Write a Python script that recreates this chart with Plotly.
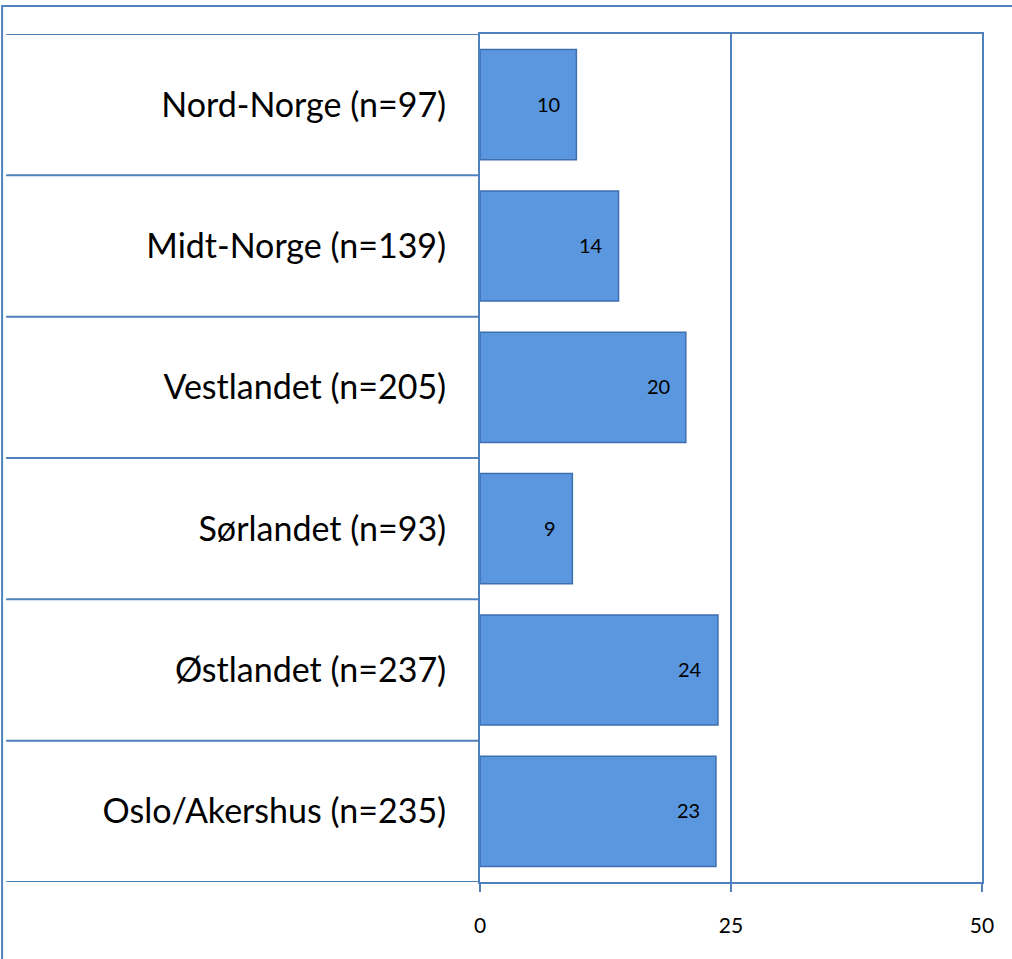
import plotly.graph_objects as go

# Data (bottom to top, as drawn)
regions = [
    "Oslo/Akershus (n=235)",
    "Østlandet (n=237)",
    "Sørlandet (n=93)",
    "Vestlandet (n=205)",
    "Midt-Norge (n=139)",
    "Nord-Norge (n=97)",
]
values = [23.5, 23.7, 9.2, 20.5, 13.8, 9.6]
value_labels = ["23", "24", "9", "20", "14", "10"]
x_ticks = [0, 25, 50]

LINE_COLOR = "#4F81BD"
BAR_COLOR = "#5B97DE"
BAR_EDGE = "#3E6FAF"
FONT_FAMILY = "Lato"

fig = go.Figure(
    go.Bar(
        x=values,
        y=regions,
        orientation="h",
        width=0.78,
        marker=dict(color=BAR_COLOR, line=dict(color=BAR_EDGE, width=1.5)),
        hoverinfo="x+y",
    )
)

# value labels near the right end of each bar
for reg, val, lab in zip(regions, values, value_labels):
    fig.add_annotation(
        x=val,
        y=reg,
        text=lab,
        showarrow=False,
        xanchor="right",
        xshift=-14,
        yshift=1,
        font=dict(size=20, color="black", family=FONT_FAMILY),
    )

# category separators extending into the label area
for i in range(len(regions) + 1):
    fig.add_shape(
        type="line",
        xref="paper",
        yref="y",
        x0=-0.944,
        x1=0,
        y0=i - 0.5,
        y1=i - 0.5,
        line=dict(color=LINE_COLOR, width=2),
    )

# outer frame
fig.add_shape(
    type="rect",
    xref="paper",
    yref="paper",
    x0=-0.952,
    x1=1.2,
    y0=-0.3,
    y1=1.033,
    line=dict(color=LINE_COLOR, width=2),
    fillcolor="rgba(0,0,0,0)",
)

fig.update_xaxes(
    range=[0, 50],
    tickvals=x_ticks,
    showgrid=True,
    gridcolor=LINE_COLOR,
    gridwidth=1.5,
    showline=True,
    linecolor=LINE_COLOR,
    linewidth=2,
    mirror=True,
    ticks="outside",
    ticklen=8,
    tickwidth=2,
    tickcolor=LINE_COLOR,
    ticklabelstandoff=16,
    tickfont=dict(size=21, color="black", family=FONT_FAMILY),
    zeroline=False,
)
fig.update_yaxes(
    range=[-0.5, 5.5],
    showline=True,
    linecolor=LINE_COLOR,
    linewidth=2,
    mirror=True,
    showgrid=False,
    ticks="",
    ticklabelstandoff=25,
    tickfont=dict(size=34, color="black", family=FONT_FAMILY),
)

fig.update_layout(
    width=1012,
    height=959,
    margin=dict(l=480, r=30, t=34, b=77),
    plot_bgcolor="white",
    paper_bgcolor="white",
    showlegend=False,
    bargap=0.22,
    font=dict(family=FONT_FAMILY),
)

fig.write_html(
    "out.html",
    config={"displayModeBar": False},
    post_script="document.body.style.margin='0';document.body.style.overflow='hidden';",
)
